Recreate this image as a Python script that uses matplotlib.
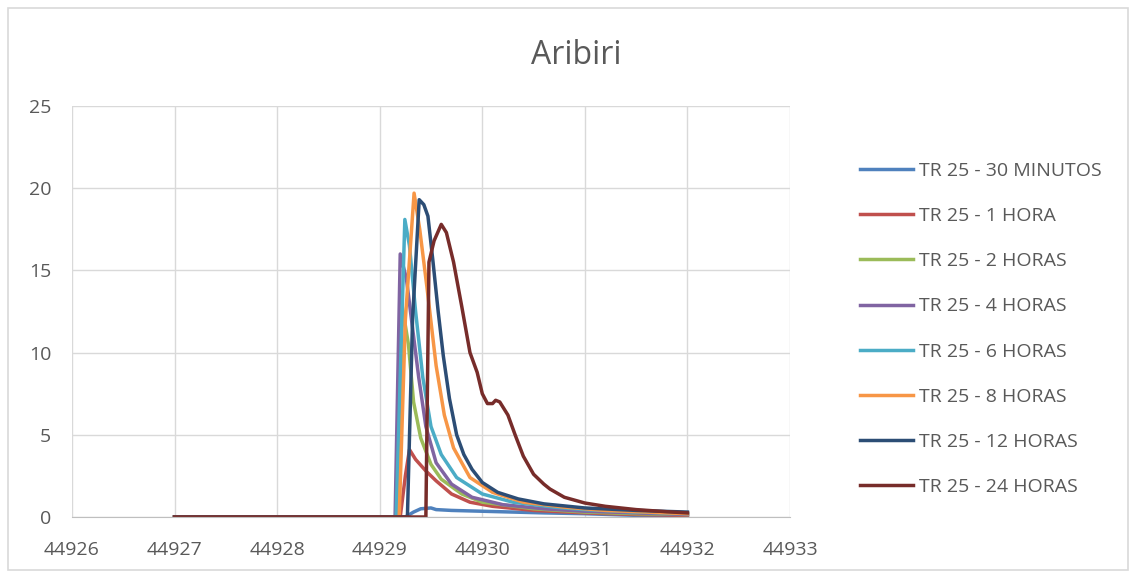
import matplotlib
matplotlib.use("Agg")
import matplotlib.pyplot as plt
from matplotlib.patches import Rectangle

plt.rcParams['font.family'] = ['Open Sans', 'DejaVu Sans']

# Data (Excel serial dates vs flow)
t_30min = [44927, 44929.25, 44929.33, 44929.40, 44929.50, 44929.55, 44929.70, 44930.0, 44930.3, 44930.6, 44931.0, 44931.5, 44932]
q_30min = [0, 0, 0.3, 0.5, 0.55, 0.45, 0.4, 0.35, 0.3, 0.25, 0.2, 0.1, 0.05]

t_1h = [44927, 44929.20, 44929.25, 44929.29, 44929.35, 44929.45, 44929.55, 44929.70, 44929.88, 44930.1, 44930.5, 44931.0, 44931.5, 44932]
q_1h = [0, 0, 2.5, 4.1, 3.5, 2.8, 2.2, 1.4, 0.9, 0.65, 0.4, 0.25, 0.15, 0.1]

t_2h = [44927, 44929.18, 44929.22, 44929.28, 44929.33, 44929.40, 44929.5, 44929.6, 44929.8, 44930.0, 44930.5, 44931.0, 44931.5, 44932]
q_2h = [0, 0, 12.8, 10.5, 7.0, 4.8, 3.2, 2.3, 1.4, 0.9, 0.5, 0.3, 0.2, 0.15]

t_4h = [44927, 44929.15, 44929.20, 44929.26, 44929.32, 44929.38, 44929.45, 44929.55, 44929.7, 44929.9, 44930.2, 44930.6, 44931.0, 44931.5, 44932]
q_4h = [0, 0, 16.0, 14.5, 11.5, 8.5, 5.5, 3.3, 2.0, 1.2, 0.75, 0.5, 0.35, 0.25, 0.15]

t_6h = [44927, 44929.16, 44929.245, 44929.29, 44929.35, 44929.42, 44929.5, 44929.6, 44929.75, 44930.0, 44930.3, 44930.7, 44931.0, 44931.5, 44932]
q_6h = [0, 0, 18.1, 16.5, 12.5, 8.5, 5.5, 3.8, 2.4, 1.4, 0.9, 0.6, 0.45, 0.3, 0.2]

t_8h = [44927, 44929.19, 44929.25, 44929.335, 44929.39, 44929.46, 44929.55, 44929.63, 44929.72, 44929.88, 44930.1, 44930.4, 44930.8, 44931.2, 44931.6, 44932]
q_8h = [0, 0, 12.0, 19.7, 17.5, 14.0, 9.2, 6.2, 4.2, 2.4, 1.5, 0.9, 0.6, 0.4, 0.3, 0.2]

t_12h = [44927, 44929.27, 44929.32, 44929.385, 44929.43, 44929.47, 44929.52, 44929.57, 44929.62, 44929.68, 44929.75, 44929.82,
         44929.9, 44930.0, 44930.15, 44930.35, 44930.6, 44931.0, 44931.5, 44932]
q_12h = [0, 0, 12.0, 19.3, 19.0, 18.3, 15.5, 12.5, 9.8, 7.2, 5.0, 3.8, 2.9, 2.1, 1.5, 1.1, 0.8, 0.55, 0.4, 0.3]

t_24h = [44927, 44929.45, 44929.48, 44929.53, 44929.60, 44929.65, 44929.72, 44929.80, 44929.88, 44929.95, 44930.0, 44930.05,
         44930.1, 44930.13, 44930.17, 44930.25, 44930.32, 44930.4, 44930.5, 44930.6, 44930.66, 44930.8, 44931.0, 44931.2,
         44931.5, 44931.8, 44932]
q_24h = [0, 0, 15.5, 16.8, 17.8, 17.3, 15.5, 12.8, 10.0, 8.8, 7.5, 6.9, 6.9, 7.1, 7.0, 6.2, 5.0, 3.7, 2.6, 2.0, 1.7, 1.2,
         0.85, 0.65, 0.45, 0.32, 0.25]

series = [
    ("TR 25 - 30 MINUTOS", t_30min, q_30min, "#4F81BD"),
    ("TR 25 - 1 HORA", t_1h, q_1h, "#C0504D"),
    ("TR 25 - 2 HORAS", t_2h, q_2h, "#9BBB59"),
    ("TR 25 - 4 HORAS", t_4h, q_4h, "#8064A2"),
    ("TR 25 - 6 HORAS", t_6h, q_6h, "#4BACC6"),
    ("TR 25 - 8 HORAS", t_8h, q_8h, "#F79646"),
    ("TR 25 - 12 HORAS", t_12h, q_12h, "#2C4D75"),
    ("TR 25 - 24 HORAS", t_24h, q_24h, "#772C2A"),
]

W, H = 1134, 574
fig = plt.figure(figsize=(W / 100, H / 100), dpi=100)
ax = fig.add_axes([72 / W, 1 - 517 / H, (790 - 72) / W, (517 - 106) / H])

# chart border
fig.patches.append(Rectangle((8 / W, 1 - 570 / H), 1120 / W, 562 / H, transform=fig.transFigure,
                             fill=False, edgecolor="#D9D9D9", linewidth=1.2))

for label, t, q, c in series:
    ax.plot(t, q, color=c, linewidth=2.5, label=label, solid_joinstyle="round")

ax.set_xlim(44926, 44933)
ax.set_ylim(0, 25)
ax.set_xticks(range(44926, 44934))
ax.set_yticks(range(0, 26, 5))
ax.grid(True, color="#D9D9D9", linewidth=1)
ax.set_axisbelow(True)
for s in ["top", "right", "left"]:
    ax.spines[s].set_visible(False)
ax.spines["bottom"].set_color("#BFBFBF")
ax.tick_params(axis="both", length=0, labelsize=14, labelcolor="#595959")
ax.tick_params(axis="x", pad=17)
ax.tick_params(axis="y", pad=15)

fig.text(576 / W, 1 - 55 / H, "Aribiri", ha="center", va="center", fontsize=23, color="#595959")

fig.legend(loc="center left", bbox_to_anchor=(842 / W, 1 - 329 / H), frameon=False, fontsize=14,
           labelcolor="#595959", handlelength=2.75, handletextpad=0.3, labelspacing=1.4)

fig.savefig("out.png", dpi=100)
